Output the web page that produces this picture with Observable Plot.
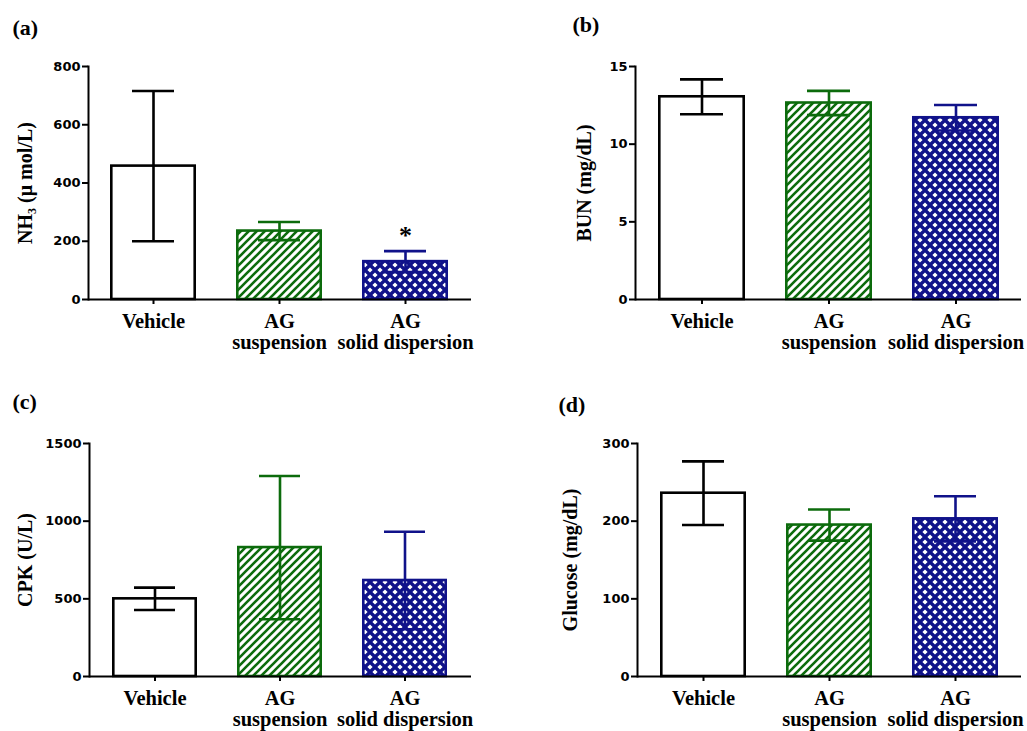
<!DOCTYPE html>
<html><head><meta charset="utf-8">
<script src="https://cdn.jsdelivr.net/npm/d3@7"></script>
<script src="https://cdn.jsdelivr.net/npm/@observablehq/plot@0.6"></script>
<style>
html,body{margin:0;padding:0;background:#fff;overflow:hidden}
#root{position:relative;width:1027px;height:731px}
#root svg{position:absolute}
</style></head><body>
<svg width="0" height="0" style="position:absolute">
<defs>
<pattern id="hatchGreen" patternUnits="userSpaceOnUse" width="8" height="8">
<rect width="8" height="8" fill="#fff"/>
<path d="M-2,2 L2,-2 M0,8 L8,0 M6,10 L10,6" stroke="#0c6b0c" stroke-width="2.6"/>
</pattern>
<pattern id="crossBlue" patternUnits="userSpaceOnUse" width="10" height="10">
<rect width="10" height="10" fill="#10128a"/>
<path d="M5,2.4 L7.6,5 L5,7.6 L2.4,5Z M0,-2.6 L2.6,0 L0,2.6 L-2.6,0Z M10,-2.6 L12.6,0 L10,2.6 L7.4,0Z M0,7.4 L2.6,10 L0,12.6 L-2.6,10Z M10,7.4 L12.6,10 L10,12.6 L7.4,10Z" fill="#fff"/>
</pattern>
</defs></svg>
<div id="root"></div>
<script>
// ---- data ----
const categories = ["Vehicle", "AG\nsuspension", "AG\nsolid dispersion"];
const nh3Mean = [458, 235, 130];
const nh3Err = [258, 31, 36];
const nh3Sig = ["", "", "*"];
const nh3Ticks = [0, 200, 400, 600, 800];
const bunMean = [13.05, 12.65, 11.7];
const bunErr = [1.12, 0.78, 0.82];
const bunTicks = [0, 5, 10, 15];
const cpkMean = [500, 830, 618];
const cpkErr = [72, 461, 314];
const cpkTicks = [0, 500, 1000, 1500];
const gluMean = [236, 195, 203];
const gluErr = [41, 20, 29];
const gluTicks = [0, 100, 200, 300];

// ---- styles ----
const FILL = ["#ffffff", "url(#hatchGreen)", "url(#crossBlue)"];
const STROKE = ["#000000", "#0c6b0c", "#10128a"];
const SERIF = "'Liberation Serif', 'Times New Roman', serif";
const SANS = "'DejaVu Sans', sans-serif";

function panel(cfg) {
  const rows = categories.map((c, i) => ({c, m: cfg.mean[i], e: cfg.err[i], s: cfg.sig ? cfg.sig[i] : "", i}));
  const sw = 2.6;
  const svg = Plot.plot({
    width: cfg.width, height: cfg.height,
    marginLeft: cfg.ml, marginRight: cfg.mr, marginTop: 66, marginBottom: cfg.mb,
    style: {background: "transparent", color: "#000", overflow: "visible"},
    color: {type: "identity"},
    x: {type: "band", domain: categories, paddingInner: 0.317, paddingOuter: 0.178, label: null},
    y: {domain: [0, cfg.ticks[cfg.ticks.length - 1]], label: null},
    marks: [
      Plot.barY(rows, {x: "c", y: "m", fill: d => FILL[d.i], stroke: d => STROKE[d.i], strokeWidth: sw, insetLeft: 1.3, insetRight: 1.3}),
      Plot.ruleX(rows, {x: "c", y1: d => d.m - d.e, y2: d => d.m + d.e, stroke: d => STROKE[d.i], strokeWidth: sw}),
      Plot.tickY(rows, {x: "c", y: d => d.m + d.e, stroke: d => STROKE[d.i], strokeWidth: sw, insetLeft: 22, insetRight: 22}),
      Plot.tickY(rows, {x: "c", y: d => d.m - d.e, stroke: d => STROKE[d.i], strokeWidth: sw, insetLeft: 22, insetRight: 22}),
      Plot.ruleY([0], {strokeWidth: 2}),
      Plot.frame({anchor: "left", strokeWidth: 2}),
      Plot.axisY({ticks: cfg.ticks, tickFormat: d => String(d), tickSize: 6, tickPadding: 2, strokeWidth: 2, fontFamily: SANS, fontWeight: "bold", fontSize: 13, label: null}),
      Plot.axisX({tickSize: 5, tickPadding: 8, strokeWidth: 2, fontFamily: SERIF, fontWeight: "bold", fontSize: 20.5, lineHeight: 1.04, label: null}),
      Plot.text([cfg.ylabel], {frameAnchor: "left", text: d => d, rotate: -90, textAnchor: "middle", lineAnchor: "middle", dx: cfg.ldx, fontFamily: SERIF, fontWeight: "bold", fontSize: 20}),
      Plot.text([cfg.tag], {frameAnchor: "top-left", text: d => d, textAnchor: "start", lineAnchor: "top", dx: cfg.tdx, dy: cfg.tdy, fontFamily: SERIF, fontWeight: "bold", fontSize: 22}),
      Plot.text(rows.filter(d => d.s), {x: "c", y: d => d.m + d.e, text: "s", dy: -15, fontFamily: SERIF, fontWeight: "bold", fontSize: 26})
    ]
  });
  svg.style.left = cfg.left + "px";
  svg.style.top = cfg.top + "px";
  document.getElementById("root").appendChild(svg);
}

panel({mean: nh3Mean, err: nh3Err, sig: nh3Sig, ticks: nh3Ticks, ylabel: "NH\u2083 (\u03bc mol/L)", tag: "(a)",
  left: 0, top: 0, width: 500, height: 365, ml: 88, mr: 29, mb: 66, ldx: -63, tdx: -76, tdy: -47});
panel({mean: bunMean, err: bunErr, ticks: bunTicks, ylabel: "BUN (mg/dL)", tag: "(b)",
  left: 500, top: 0, width: 527, height: 365, ml: 135, mr: 6, mb: 66, ldx: -51, tdx: -63, tdy: -50});
panel({mean: cpkMean, err: cpkErr, ticks: cpkTicks, ylabel: "CPK (U/L)", tag: "(c)",
  left: 0, top: 377, width: 500, height: 354, ml: 89, mr: 29, mb: 55, ldx: -64, tdx: -77, tdy: -50});
panel({mean: gluMean, err: gluErr, ticks: gluTicks, ylabel: "Glucose (mg/dL)", tag: "(d)",
  left: 500, top: 377, width: 527, height: 354, ml: 137, mr: 6, mb: 55, ldx: -67, tdx: -79, tdy: -47});
</script>
</body></html>
